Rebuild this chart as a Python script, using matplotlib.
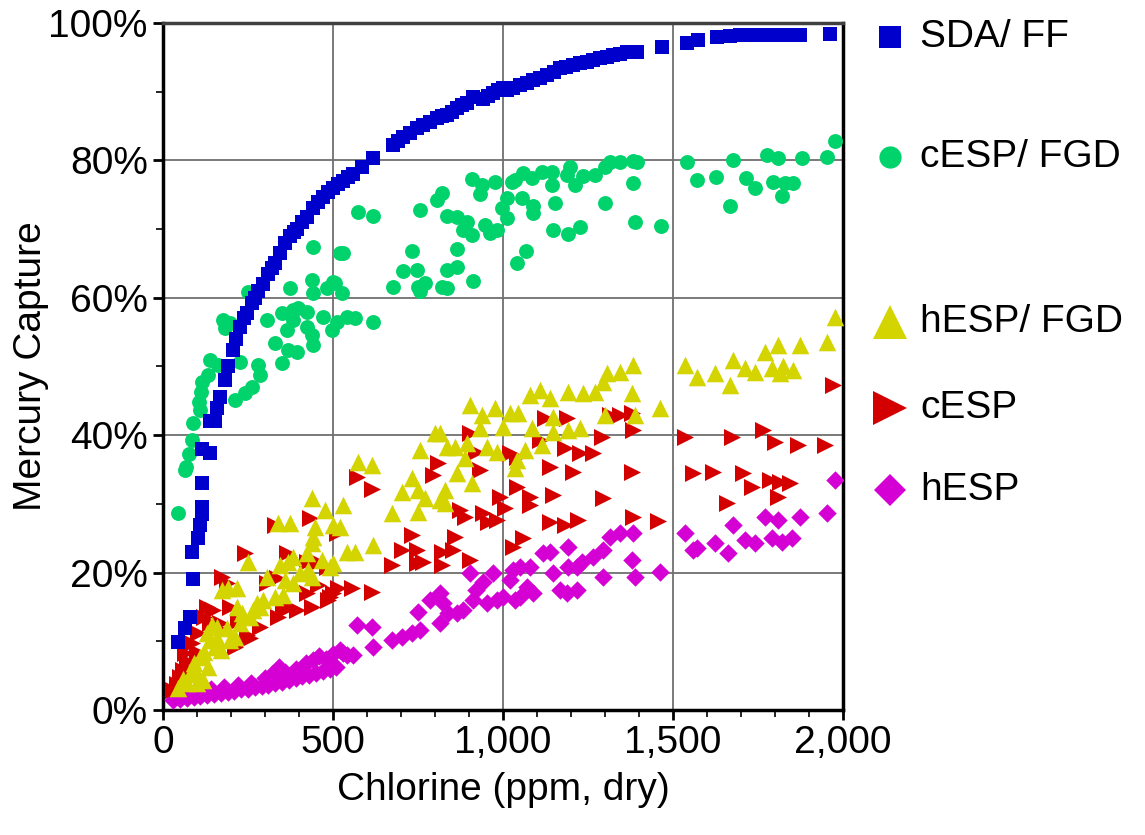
import matplotlib
matplotlib.use("Agg")
import matplotlib.pyplot as plt
from matplotlib.lines import Line2D
from matplotlib.ticker import FuncFormatter, MultipleLocator

plt.rcParams["font.family"] = ["Liberation Sans", "DejaVu Sans"]

# SDA/ FF (blue squares)
sda_x = [44, 65, 79, 88, 85, 103, 109, 115, 115, 115, 115, 138, 153, 138, 160, 168, 182, 191,
         206, 216, 226, 237, 247, 262, 270, 279, 294, 310, 320, 329, 344, 360, 373, 385, 394,
         410, 424, 441, 455, 470, 485, 500, 515, 530, 545, 560, 585, 618, 676, 690, 706, 725,
         747, 765, 785, 806, 820, 835, 850, 865, 880, 894, 912, 941, 955, 971, 985, 1000, 1012,
         1030, 1050, 1070, 1088, 1110, 1129, 1150, 1168, 1185, 1206, 1225, 1247, 1265, 1285,
         1305, 1324, 1345, 1365, 1394, 1468, 1541, 1574, 1629, 1668, 1697, 1730, 1760, 1790,
         1820, 1850, 1874, 1962]
sda_y = [9.9, 12, 13.5, 19, 23, 25, 27, 28.5, 29.5, 33, 38, 42, 42, 37.4, 44, 45.5, 48, 50,
         52.4, 54, 55.7, 57, 57.8, 59.2, 60, 61, 62, 63.5, 64.3, 65, 66.5, 68, 69, 69.6, 70,
         71, 71.8, 73, 74, 74.7, 75.4, 76, 76.5, 77, 77.6, 78, 79, 80.3, 82.2, 82.8, 83.4, 84,
         84.7, 85.2, 85.6, 86.2, 86.4, 86.6, 87.1, 87.6, 88, 88.4, 89.2, 89, 89.4, 89.8, 90.2,
         90.5, 90.2, 90.6, 91, 91.3, 91.7, 92, 92.4, 92.9, 93.4, 93.6, 93.9, 94.1, 94.3, 94.6,
         94.9, 95.1, 95.3, 95.5, 95.8, 95.8, 96.5, 97.1, 97.5, 98, 98.1, 98.2, 98.2, 98.2, 98.2,
         98.2, 98.2, 98.2, 98.4]

# cESP/ FGD (green circles)
cfgd_x = [44, 65, 68, 76, 85, 88, 109, 106, 112, 115, 132, 138, 162, 182, 176, 197, 226, 212,
          241, 262, 285, 279, 250, 306, 329, 350, 350, 365, 382, 397, 382, 368, 394, 424, 424,
          438, 441, 373, 438, 441, 482, 500, 441, 470, 497, 512, 520, 574, 618, 529, 506, 526,
          541, 565, 618, 756, 806, 820, 835, 865, 894, 882, 909, 909, 938, 932, 976, 947, 982,
          962, 1012, 997, 1012, 1026, 1041, 732, 865, 706, 747, 676, 750, 770, 756, 820, 835,
          835, 865, 912, 1068, 1035, 1059, 1085, 1056, 1088, 1088, 1115, 1144, 1144, 1153,
          1147, 1191, 1226, 1188, 1197, 1212, 1235, 1270, 1300, 1315, 1344, 1382, 1394, 1382,
          1300, 1388, 1465, 1541, 1571, 1626, 1676, 1668, 1715, 1741, 1776, 1809, 1794, 1829,
          1853, 1821, 1879, 1953, 1976]
cfgd_y = [28.7, 35, 35.4, 37.3, 39.3, 41.8, 43.7, 44.8, 46.3, 47.7, 48.8, 51, 50.2, 55.6,
          56.8, 56.3, 50.7, 45.1, 46.1, 47, 48.8, 50.2, 60.8, 56.8, 53.4, 57.8, 50.5, 55.3,
          58.2, 58.5, 56.8, 52.4, 52.1, 57.9, 55.7, 54.6, 53.1, 61.4, 62.6, 60.7, 61.4, 62.3,
          67.4, 57.2, 55.3, 56.5, 66.5, 72.5, 71.9, 66.5, 62.2, 60.7, 57.2, 57, 56.5, 72.8,
          74.2, 75.2, 71.9, 71.8, 71, 69.9, 69.1, 77.3, 76.4, 75.1, 76.9, 70.6, 69.9, 69.4,
          71.6, 73.1, 74.5, 76.9, 65, 66.8, 67.1, 63.9, 64, 61.6, 61.6, 62.2, 61, 61.6, 61.4,
          64, 64.5, 62.4, 66.8, 77.1, 78.2, 77.4, 74.5, 73.4, 72.3, 78.3, 78.3, 76.4, 73.8,
          69.9, 69.3, 70.3, 77.9, 79, 76.4, 77.7, 77.9, 79, 79.8, 79.8, 79.9, 79.8, 76.7, 73.8,
          71, 70.4, 79.8, 77.1, 77.6, 80, 73.4, 77.4, 76, 80.8, 80.3, 76.9, 76.7, 76.7, 74.8,
          80.3, 80.5, 82.8]

# hESP/ FGD (yellow triangles)
hfgd_x = [44, 71, 100, 118, 94, 109, 132, 138, 153, 159, 144, 188, 197, 212, 226, 232, 218,
          256, 265, 276, 294, 285, 174, 191, 218, 250, 306, 329, 353, 344, 368, 382, 359, 382,
          403, 426, 438, 424, 441, 438, 468, 491, 500, 338, 373, 438, 476, 447, 500, 60, 80,
          90, 120, 160, 170, 130, 574, 615, 529, 520, 541, 565, 618, 673, 703, 732, 750, 770,
          750, 756, 800, 815, 835, 859, 894, 888, 865, 829, 815, 829, 909, 903, 938, 932, 976,
          1000, 953, 982, 1021, 1035, 1041, 1065, 1044, 1079, 1109, 1138, 1085, 1115, 1147,
          1147, 1191, 1226, 1191, 1235, 1270, 1294, 1300, 1388, 1379, 1462, 1535, 1570, 1623,
          1668, 1676, 1712, 1741, 1791, 1823, 1853, 1306, 1344, 1382, 1976, 1953, 1874, 1809,
          1770, 1815]
hfgd_y = [3.2, 3.9, 3.9, 4.4, 5.8, 7.7, 6.3, 10.2, 9.2, 12.1, 12.4, 11.9, 10.2, 10.6, 12.7,
          14.1, 15, 13.5, 14.6, 15.6, 16, 15, 17.5, 17.8, 17.8, 21.5, 19.4, 16.4, 16.7, 21.1,
          21.5, 22.3, 18.9, 18.5, 19.9, 20.4, 19.4, 22.9, 25.2, 24.3, 21.8, 20.8, 21.4, 27.2,
          27.2, 30.9, 29.1, 26.6, 26.9, 4.5, 5.2, 6.8, 8.5, 10.5, 8.8, 11.2, 36.1, 35.7, 29.8,
          26.6, 23, 23, 24, 28.7, 31.7, 33.8, 32, 30.9, 28.8, 37.8, 40.3, 40.3, 38.3, 38.3,
          38.9, 36.7, 34.5, 32, 30.6, 30.1, 33, 44.4, 42.9, 41, 44, 41.2, 38.3, 37.6, 43.2,
          35.2, 36.4, 37.8, 43.2, 45.9, 46.6, 45.4, 41, 38.6, 40.5, 42.6, 40.8, 41, 46.3, 46.1,
          46.3, 47.7, 42.9, 42.9, 46.1, 44, 50.2, 48.5, 49, 47.3, 50.9, 49.8, 49.2, 49.8, 50,
          49.5, 49, 49.2, 50.2, 57.2, 53.6, 53.1, 53.1, 52.1, 49]

# cESP (red triangles)
cesp_x = [29, 59, 65, 85, 103, 129, 147, 174, 188, 197, 212, 247, 256, 285, 241, 306, 335,
          338, 353, 373, 394, 424, 438, 456, 485, 500, 365, 329, 432, 512, 456, 424, 482, 168,
          138, 79, 40, 50, 70, 100, 120, 160, 220, 570, 615, 515, 556, 615, 491, 673, 703, 732,
          747, 747, 765, 820, 853, 820, 859, 903, 809, 794, 874, 888, 941, 956, 982, 1006, 932,
          903, 921, 1021, 991, 1029, 1041, 1041, 1079, 1079, 1147, 1138, 1206, 1182, 1226,
          1265, 1291, 1138, 1182, 1221, 1294, 1379, 1382, 1456, 1059, 1124, 1188, 1315, 1344,
          1379, 1382, 1535, 1559, 1109, 1971, 1674, 1765, 1800, 1868, 1947, 1618, 1706, 1732,
          1785, 1815, 1844, 1809, 1659]
cesp_y = [2.9, 5.8, 8.3, 9.8, 11.2, 15, 14.6, 19.4, 18.5, 15, 9.2, 10.9, 10.5, 12.1, 22.8,
          18.5, 19.2, 13.5, 14.6, 15, 14.6, 17, 15, 18.2, 16, 17, 22.9, 26.9, 27.9, 25.8, 21.5,
          21.5, 20.8, 12.7, 12.7, 5.8, 3.8, 4.8, 7.2, 8.5, 13.5, 12, 13, 33.9, 32.2, 17.8, 17.8,
          17.2, 16.4, 21.1, 23.3, 25.5, 23.3, 21.4, 21.5, 23, 23.3, 21.1, 25.2, 21.8, 35.9,
          34.2, 29.1, 28.1, 28.7, 27.4, 27.7, 29.4, 34.9, 40.3, 37.6, 37.4, 31, 23.7, 36.8,
          32.5, 31, 29.8, 31.3, 35.4, 34.6, 38.1, 37.4, 37.4, 39.7, 27.4, 26.9, 27.7, 30.9,
          34.6, 28.1, 27.5, 25, 42.5, 42.5, 42.9, 42.9, 43.2, 40.8, 39.7, 34.5, 39.3, 47.3,
          39.7, 40.8, 39, 38.6, 38.6, 34.6, 34.5, 32.5, 33.5, 33.2, 33, 31, 30.1]

# hESP (magenta diamonds)
hesp_x = [30, 50, 70, 90, 110, 130, 150, 170, 190, 210, 230, 250, 270, 290, 310, 330, 350,
          370, 390, 410, 430, 450, 470, 490, 510, 60, 100, 140, 180, 220, 260, 300, 320, 340,
          360, 390, 420, 440, 460, 480, 500, 520, 540, 570, 615, 618, 529, 559, 673, 703, 732,
          756, 750, 785, 815, 815, 838, 865, 882, 903, 921, 941, 971, 953, 982, 1000, 1029,
          1035, 824, 912, 1021, 1050, 1070, 1088, 1050, 1079, 1118, 1138, 1147, 1168, 1188,
          1218, 1191, 1191, 1218, 1232, 1265, 1294, 1315, 1344, 1382, 1294, 1379, 1388, 1462,
          1535, 1559, 1570, 1623, 1662, 1676, 1712, 1741, 1770, 1809, 1791, 1821, 1850, 1874,
          1953, 1976]
hesp_y = [1.5, 1.6, 1.8, 1.9, 2.0, 2.2, 2.3, 2.5, 2.6, 2.8, 3.0, 3.1, 3.3, 3.5, 3.7, 3.9,
          4.1, 4.4, 4.6, 4.9, 5.1, 5.4, 5.7, 6.0, 6.3, 2.3, 2.6, 3.0, 3.3, 3.7, 4.0, 4.6, 5.2,
          6.2, 5.5, 6.0, 6.8, 7.3, 7.8, 7.4, 8.2, 8.8, 8.0, 12.4, 12.1, 9.2, 8.3, 8.0, 10.2,
          10.6, 11.2, 11.6, 14.3, 16, 17, 12.7, 14.1, 14.1, 14.6, 19.9, 17.5, 18.6, 19.9, 15.6,
          16, 16.4, 20.4, 16, 15.6, 16, 18.9, 16.4, 17.9, 17, 20.8, 20.8, 22.8, 23, 19.9, 17.5,
          17, 17.5, 23.7, 20.8, 20.8, 21.5, 22.3, 23.3, 25.2, 25.8, 25.8, 19.4, 21.8, 19.4,
          20.1, 25.8, 23.3, 23.6, 24.3, 22.9, 26.9, 24.7, 24.3, 28.1, 27.7, 25, 24.5, 25, 28.1,
          28.7, 33.5]

x_ticks = [0, 500, 1000, 1500, 2000]
y_ticks = [0, 20, 40, 60, 80, 100]

BLUE = "#0000cc"
GREEN = "#00d36b"
YELLOW = "#d4d400"
RED = "#d40000"
MAGENTA = "#d400d4"

fig = plt.figure(figsize=(11.45, 8.35), dpi=100)
ax = fig.add_axes([0.1424, 0.1497, 0.5939, 0.8228])

ax.scatter(hesp_x, hesp_y, marker="D", s=88, color=MAGENTA, linewidths=0, zorder=3)
ax.scatter(cesp_x, cesp_y, marker=">", s=150, color=RED, linewidths=0, zorder=3)
ax.scatter(hfgd_x, hfgd_y, marker="^", s=160, color=YELLOW, linewidths=0, zorder=3)
ax.scatter(cfgd_x, cfgd_y, marker="o", s=115, color=GREEN, linewidths=0, zorder=3)
ax.scatter(sda_x, sda_y, marker="s", s=100, color=BLUE, linewidths=0, zorder=3)

ax.set_xlim(0, 2000)
ax.set_ylim(0, 100)
ax.set_xticks(x_ticks)
ax.set_yticks(y_ticks)
ax.xaxis.set_minor_locator(MultipleLocator(100))
ax.yaxis.set_minor_locator(MultipleLocator(10))
ax.xaxis.set_major_formatter(FuncFormatter(lambda v, p: f"{int(v):,}"))
ax.yaxis.set_major_formatter(FuncFormatter(lambda v, p: f"{int(v)}%"))
ax.tick_params(which="major", direction="out", length=7, width=2, labelsize=28, pad=4)
ax.tick_params(which="minor", direction="out", length=5, width=1.2)
ax.grid(True, which="major", color="#707070", linewidth=1.3, zorder=0)
ax.set_axisbelow(True)

for name, sp in ax.spines.items():
    sp.set_linewidth(2.5)
    sp.set_color("black")
ax.spines["top"].set_color("#404040")

ax.set_xlabel("Chlorine (ppm, dry)", fontsize=28, labelpad=8)
ax.set_ylabel("Mercury Capture", fontsize=28)
ax.yaxis.set_label_coords(-0.168, 0.5)

# legend entries placed manually to keep the uneven spacing
legend_rows = [
    ("SDA/ FF", "s", BLUE, 16, 37),
    ("cESP/ FGD", "o", GREEN, 16, 157),
    ("hESP/ FGD", "^", YELLOW, 24, 322),
    ("cESP", ">", RED, 24, 408),
    ("hESP", "D", MAGENTA, 16, 490),
]
for label, mk, col, ms, ypx in legend_rows:
    yf = 1 - ypx / 835
    fig.add_artist(Line2D([890 / 1145], [yf], marker=mk, markersize=ms, color=col,
                          markeredgewidth=0, linestyle="none", transform=fig.transFigure))
    fig.text(920 / 1145, yf, label, fontsize=28, va="center", ha="left")

fig.savefig("out.png", dpi=100)
